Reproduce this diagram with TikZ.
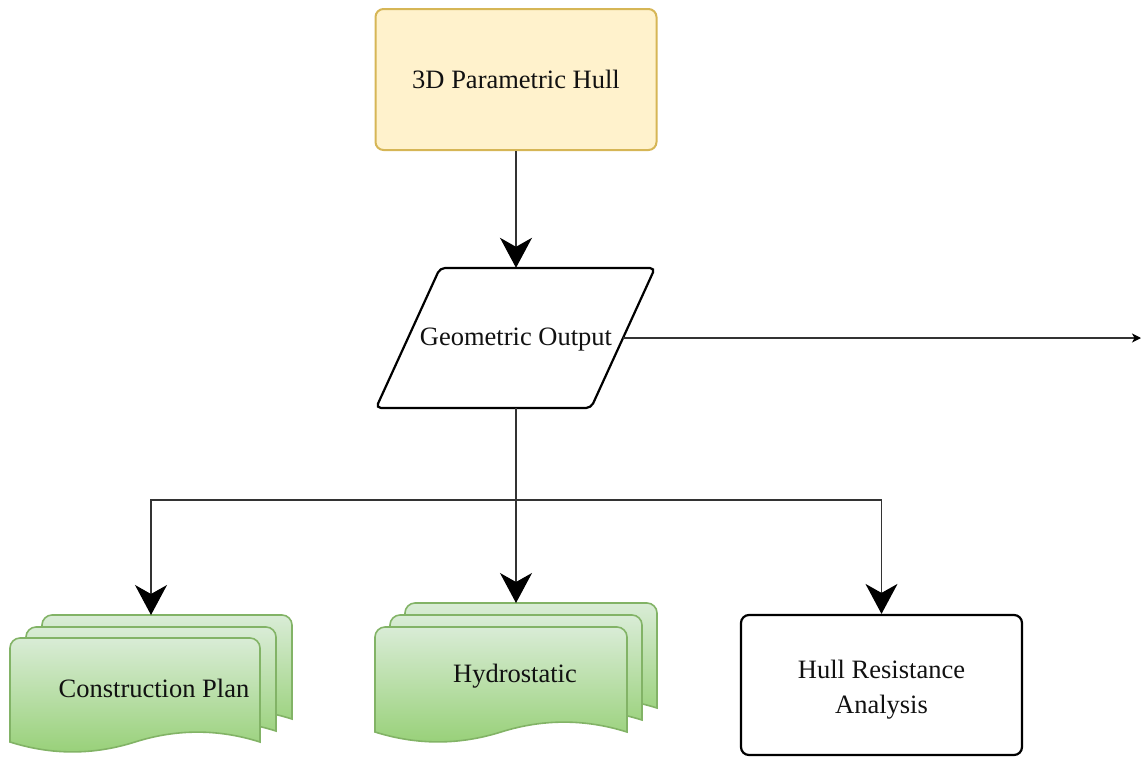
\documentclass[tikz,border=0pt]{standalone}
\usepackage{fontspec}
\setmainfont{Liberation Serif}
\usetikzlibrary{arrows.meta}

\definecolor{hullFill}{HTML}{FFF2CC}
\definecolor{hullLine}{HTML}{D6B656}
\definecolor{docTop}{HTML}{D9ECD6}
\definecolor{docBot}{HTML}{97D077}
\definecolor{docLine}{HTML}{82B366}
\definecolor{ink}{HTML}{111111}

% One sheet of a stacked document: left x, top y, width w, height h
\newcommand\docsheet[4]{%
  \pgfmathsetmacro\sx{#1}\pgfmathsetmacro\sy{#2}%
  \pgfmathsetmacro\sw{#3}\pgfmathsetmacro\sh{#4}%
  \pgfmathsetmacro\dy{22}\pgfmathsetmacro\rr{10}%
  \pgfmathsetmacro\yb{\sy+\sh-\dy/2}%
  \draw[sheet]
    (\sx,\yb) -- (\sx,\sy+\rr)
    .. controls (\sx,\sy+0.45*\rr) and (\sx+0.45*\rr,\sy) .. (\sx+\rr,\sy)
    -- (\sx+\sw-\rr,\sy)
    .. controls (\sx+\sw-0.45*\rr,\sy) and (\sx+\sw,\sy+0.45*\rr) .. (\sx+\sw,\sy+\rr)
    -- (\sx+\sw,\yb)
    .. controls (\sx+5*\sw/6,\yb-0.6*\dy) and (\sx+2*\sw/3,\yb-0.6*\dy) .. (\sx+\sw/2,\yb)
    .. controls (\sx+\sw/3,\yb+0.6*\dy) and (\sx+\sw/6,\yb+0.6*\dy) .. (\sx,\yb)
    -- cycle;}

\tikzset{
  lbl/.style={font=\fontsize{26.5}{33}\selectfont, text=ink, align=center},
  topbox/.style={lbl, draw=hullLine, fill=hullFill, line width=2pt,
    rounded corners=8pt, minimum width=281pt, minimum height=141pt},
  plainbox/.style={draw=black, line width=2.2pt, rounded corners=8pt,
    minimum width=281pt, minimum height=140pt},
  shapeline/.style={draw=black, line width=2.2pt, rounded corners=5pt},
  sheet/.style={draw=docLine, line width=1.6pt, top color=docTop, bottom color=docBot},
  wire/.style={draw=black!80, line width=1.2pt},
  link/.style={wire, -{Stealth[length=30pt, width=32pt, inset=9pt, color=black]}},
  smalllink/.style={wire, -{Stealth[length=9pt, width=9pt, inset=2.5pt, color=black]}},
}

\begin{document}
\begin{tikzpicture}[x=1pt, y=-1pt]
  \useasboundingbox (0,0) rectangle (1141,756);

  % source model
  \node[topbox] (hull3d) at (516,79.5) {3D Parametric Hull};

  % geometric output (parallelogram)
  \path[shapeline] (440,268) -- (655,268) -- (591,408) -- (376,408) -- cycle;
  \node[minimum width=279pt, minimum height=140pt, inner sep=0pt] (geo) at (516,338) {};
  \node[lbl] (geotext) at (516,340) {Geometric Output};
  \coordinate (geoR) at (623,338);
  \coordinate (outR) at (1141,338);

  % construction plan stack
  \docsheet{42}{615}{250}{115}
  \docsheet{26}{627}{250}{115}
  \docsheet{10}{638}{250}{115}
  \node[lbl] (cp) at (154,688) {Construction Plan};
  \coordinate (cpTop) at (151,615);

  % hydrostatic stack
  \docsheet{405}{603}{252}{116}
  \docsheet{390}{615}{252}{116}
  \docsheet{375}{627}{252}{116}
  \node[lbl] (hyd) at (515,676) {Hydrostatic};
  \coordinate (hydTop) at (516,603);

  % resistance analysis
  \node[plainbox] (hra) at (881.5,685) {};
  \node[lbl] (hratext) at (881.5,690) {Hull Resistance\\[2pt]Analysis};

  % connectors
  \draw[link] (hull3d.south) -- (geo.north);
  \draw[smalllink] (geoR) -- (outR);
  \coordinate (fork) at (516,500);
  \draw[wire] (geo.south) -- (fork);
  \draw[link] (fork) -- (hydTop);
  \draw[link] (fork) -| (cpTop);
  \draw[link] (fork) -| (hra.north);
\end{tikzpicture}
\end{document}
